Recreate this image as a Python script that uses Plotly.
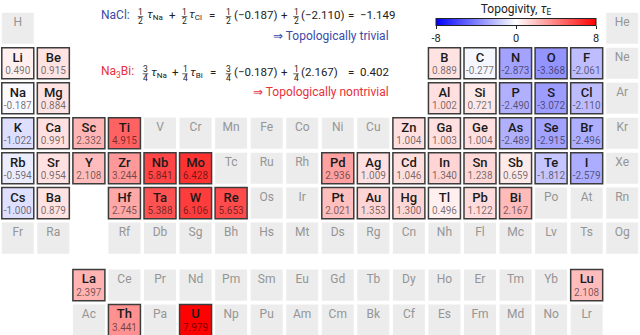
import plotly.graph_objects as go

FONT = "Roboto"
W, H = 640, 335

# ---------------- data ----------------
period_rows = [
    ["H"] + [None] * 16 + ["He"],
    ["Li", "Be"] + [None] * 10 + ["B", "C", "N", "O", "F", "Ne"],
    ["Na", "Mg"] + [None] * 10 + ["Al", "Si", "P", "S", "Cl", "Ar"],
    ["K", "Ca", "Sc", "Ti", "V", "Cr", "Mn", "Fe", "Co", "Ni", "Cu", "Zn", "Ga", "Ge", "As", "Se", "Br", "Kr"],
    ["Rb", "Sr", "Y", "Zr", "Nb", "Mo", "Tc", "Ru", "Rh", "Pd", "Ag", "Cd", "In", "Sn", "Sb", "Te", "I", "Xe"],
    ["Cs", "Ba", None, "Hf", "Ta", "W", "Re", "Os", "Ir", "Pt", "Au", "Hg", "Tl", "Pb", "Bi", "Po", "At", "Rn"],
    ["Fr", "Ra", None, "Rf", "Db", "Sg", "Bh", "Hs", "Mt", "Ds", "Rg", "Cn", "Nh", "Fl", "Mc", "Lv", "Ts", "Og"],
]
lanthanides = ["La", "Ce", "Pr", "Nd", "Pm", "Sm", "Eu", "Gd", "Tb", "Dy", "Ho", "Er", "Tm", "Yb", "Lu"]
actinides = ["Ac", "Th", "Pa", "U", "Np", "Pu", "Am", "Cm", "Bk", "Cf", "Es", "Fm", "Md", "No", "Lr"]

tau_elements = ["Li", "Be", "B", "C", "N", "O", "F",
                "Na", "Mg", "Al", "Si", "P", "S", "Cl",
                "K", "Ca", "Sc", "Ti", "Zn", "Ga", "Ge", "As", "Se", "Br",
                "Rb", "Sr", "Y", "Zr", "Nb", "Mo", "Pd", "Ag", "Cd", "In", "Sn", "Sb", "Te", "I",
                "Cs", "Ba", "Hf", "Ta", "W", "Re", "Pt", "Au", "Hg", "Tl", "Pb", "Bi",
                "La", "Lu", "Th", "U"]
tau_values = [0.490, 0.915, 0.889, -0.277, -2.873, -3.368, -2.061,
              -0.187, 0.884, 1.002, 0.721, -2.490, -3.072, -2.110,
              -1.022, 0.991, 2.332, 4.915, 1.004, 1.003, 1.004, -2.489, -2.915, -2.496,
              -0.594, 0.954, 2.108, 3.244, 5.841, 6.428, 2.936, 1.009, 1.046, 1.340, 1.238, 0.659, -1.812, -2.579,
              -1.000, 0.879, 2.745, 5.388, 6.106, 5.653, 2.021, 1.353, 1.300, 0.496, 1.122, 2.167,
              2.397, 2.108, 3.441, 7.979]
nacl_result = -1.149
na3bi_result = 0.402
cbar_ticks = [-8, 0, 8]

tau = dict(zip(tau_elements, tau_values))

# ---------------- positions (table structure) ----------------
cells = []  # (symbol, col, row)
for p, row in enumerate(period_rows, start=1):
    for g, s in enumerate(row, start=1):
        if s:
            cells.append((s, g, p))
for i, s in enumerate(lanthanides):
    cells.append((s, 3 + i, 8.34))
for i, s in enumerate(actinides):
    cells.append((s, 3 + i, 9.34))

CMIN, CMAX = -8, 8
colorscale = [[0, "rgb(0,0,255)"], [0.5, "rgb(255,255,255)"], [1, "rgb(255,0,0)"]]


def tau_color(v):
    t = (v - CMIN) / (CMAX - CMIN)
    if t < 0.5:
        f = t / 0.5
        return f"rgb({255*f:.0f},{255*f:.0f},255)"
    f = (t - 0.5) / 0.5
    return f"rgb(255,{255*(1-f):.0f},{255*(1-f):.0f})"


fig = go.Figure()
hw, hh = 0.45, 0.445
shapes = []
for s, x, y in cells:
    if s in tau:
        shapes.append(dict(type="rect", xref="x", yref="y", x0=x - hw, x1=x + hw, y0=y - hh, y1=y + hh,
                           fillcolor=tau_color(tau[s]), line=dict(color="#3c3c3c", width=1.5), layer="below"))
    else:
        shapes.append(dict(type="rect", xref="x", yref="y", x0=x - hw, x1=x + hw, y0=y - hh, y1=y + hh,
                           fillcolor="#ececec", line=dict(width=0), layer="below"))

grey = [c for c in cells if c[0] not in tau]
col = [c for c in cells if c[0] in tau]

fig.add_trace(go.Scatter(x=[c[1] for c in grey], y=[c[2] - 0.14 for c in grey], mode="text",
                         text=[c[0] for c in grey], textfont=dict(family=FONT, size=12, color="#959595"),
                         hoverinfo="skip", showlegend=False))
fig.add_trace(go.Scatter(x=[c[1] for c in col], y=[c[2] - 0.14 for c in col], mode="text",
                         text=[c[0] for c in col], textfont=dict(family=FONT, size=13, color="#1a1a1a", weight=500),
                         hoverinfo="skip", showlegend=False))
fig.add_trace(go.Scatter(x=[c[1] for c in col], y=[c[2] + 0.245 for c in col], mode="text",
                         text=[f"{tau[c[0]]:.3f}" for c in col],
                         textfont=dict(family=FONT, size=10, color="rgba(0,0,0,0.55)"),
                         hoverinfo="skip", showlegend=False))
# colour bar carrier
fig.add_trace(go.Scatter(x=[c[1] for c in col], y=[c[2] for c in col], mode="markers",
                         marker=dict(size=1, opacity=0, color=[tau[c[0]] for c in col], colorscale=colorscale,
                                     cmin=CMIN, cmax=CMAX, showscale=True,
                                     colorbar=dict(orientation="h", x=516 / W, xanchor="center", y=1 - 3 / H,
                                                   yanchor="top", len=160 / W, lenmode="fraction", thickness=7,
                                                   xpad=0, ypad=0, outlinecolor="#222", outlinewidth=1,
                                                   tickvals=cbar_ticks, ticktext=[str(t) for t in cbar_ticks],
                                                   ticks="outside", ticklen=3, tickcolor="#222",
                                                   tickfont=dict(family=FONT, size=11, color="#222"),
                                                   title=dict(text="Topogivity, <i>τ</i><sub>E</sub>", side="top",
                                                              font=dict(family=FONT, size=12, color="#222")))),
                         hoverinfo="skip", showlegend=False))


# ---------------- formulas ----------------
def px(x):
    return x / W


def py(y):
    return 1 - y / H


def txt(x, y, s, color="#222", size=11.5, anchor="left"):
    fig.add_annotation(x=px(x), y=py(y), xref="paper", yref="paper", text=s, showarrow=False,
                       xanchor=anchor, yanchor="middle", borderpad=0,
                       font=dict(size=size, color=color, family=FONT))


def frac(xc, y, n, d):
    txt(xc, y - 3.2, n, size=8.5, anchor="center")
    txt(xc, y + 6.4, d, size=8.5, anchor="center")
    shapes.append(dict(type="line", xref="paper", yref="paper", x0=px(xc - 2.8), x1=px(xc + 2.8),
                       y0=py(y + 1.8), y1=py(y + 1.8), line=dict(color="#222", width=0.7)))


def fmt(v):
    return f"{v:.3f}".replace("-", "−")


BLUE = "#3a4aa6"
RED = "#e8303a"

y1 = 14.8
txt(100, y1, "NaCl:", color=BLUE, size=12)
frac(140.5, y1, "1", "2")
txt(146, y1, "<i>τ</i><sub>Na</sub>")
txt(172.5, y1, "+", anchor="center")
frac(184.5, y1, "1", "2")
txt(188, y1, "<i>τ</i><sub>Cl</sub>")
txt(212, y1, "=", anchor="center")
frac(228.5, y1, "1", "2")
txt(233, y1, f"({fmt(tau['Na'])})")
txt(284, y1, "+", anchor="center")
frac(296, y1, "1", "2")
txt(300, y1, f"({fmt(tau['Cl'])})")
txt(347, y1, f"=  {fmt(nacl_result)}")
txt(390, 35.5, "⇒ Topologically trivial", color=BLUE, anchor="right", size=12)

y2 = 72
txt(100, y2, "Na<sub>3</sub>Bi:", color=RED, size=12)
frac(145.5, y2, "3", "4")
txt(150, y2, "<i>τ</i><sub>Na</sub>")
txt(175.5, y2, "+", anchor="center")
frac(185, y2, "1", "4")
txt(189, y2, "<i>τ</i><sub>Bi</sub>")
txt(213, y2, "=", anchor="center")
frac(228.5, y2, "3", "4")
txt(233, y2, f"({fmt(tau['Na'])})")
txt(284, y2, "+", anchor="center")
frac(296, y2, "1", "4")
txt(300, y2, f"({fmt(tau['Bi'])})")
txt(347, y2, f"=  {fmt(na3bi_result)}")
txt(390, 92, "⇒ Topologically nontrivial", color=RED, anchor="right", size=12)

fig.update_layout(
    width=W, height=H, margin=dict(l=0, r=0, t=0, b=0, autoexpand=False),
    paper_bgcolor="white", plot_bgcolor="white",
    xaxis=dict(range=[0.5, 18.5], visible=False, fixedrange=True),
    yaxis=dict(range=[9.766, 0.194], visible=False, fixedrange=True),
    shapes=shapes, showlegend=False,
)
fig.write_html("out.html", config={"displayModeBar": False},
               post_script="document.body.style.margin='0';")
